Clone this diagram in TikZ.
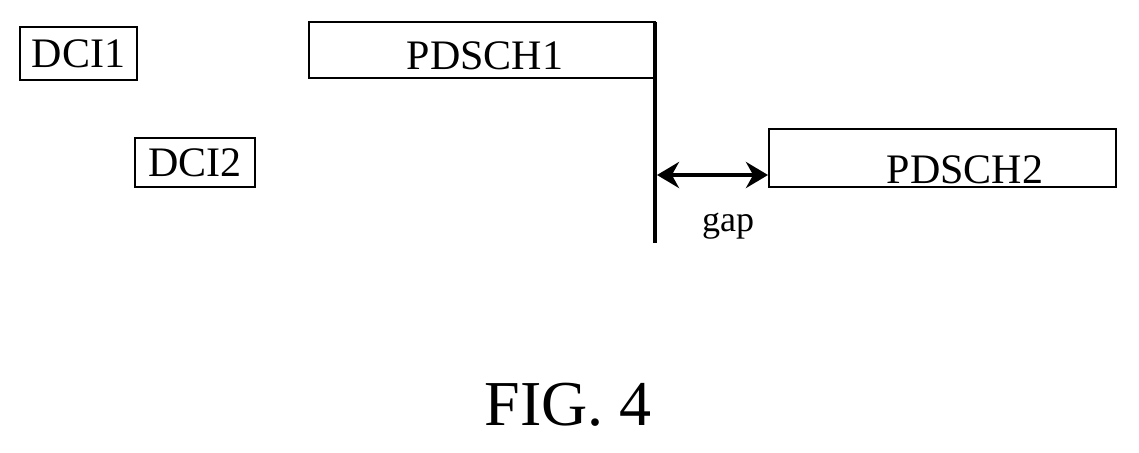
\documentclass[tikz,border=0pt]{standalone}
\usepackage{fontspec}
\setmainfont{Liberation Serif}
\usetikzlibrary{arrows.meta}
\begin{document}
\begin{tikzpicture}[x=1pt,y=-1pt,
  lab/.style={font=\fontsize{42}{44}\selectfont}]
\useasboundingbox (0,0) rectangle (1139,452);
\draw[line width=2.5pt] (20,27) rectangle (137,80);
\node[lab] (dci1) at (78.5,54) {DCI1};
\draw[line width=2.5pt] (309,22) rectangle (655,78);
\node[lab] (p1) at (485,56) {PDSCH1};
\draw[line width=2.5pt] (135,138) rectangle (255,187);
\node[lab] (dci2) at (195,163) {DCI2};
\draw[line width=2.5pt] (769,129) rectangle (1116,187);
\node[lab] (p2) at (965,170) {PDSCH2};
\coordinate (vt) at (655,22);
\coordinate (vb) at (655,243);
\draw[line width=4.5pt] (vt) -- (vb);
\coordinate (al) at (657,175);
\coordinate (ar) at (768,175);
\draw[line width=4pt,{Stealth[length=22pt,width=26pt]}-{Stealth[length=22pt,width=26pt]}] (al) -- (ar);
\node[font=\fontsize{36}{38}\selectfont] (gap) at (728,226) {gap};
\node[font=\fontsize{64}{66}\selectfont] (fig) at (568,405) {FIG. 4};
\end{tikzpicture}
\end{document}
